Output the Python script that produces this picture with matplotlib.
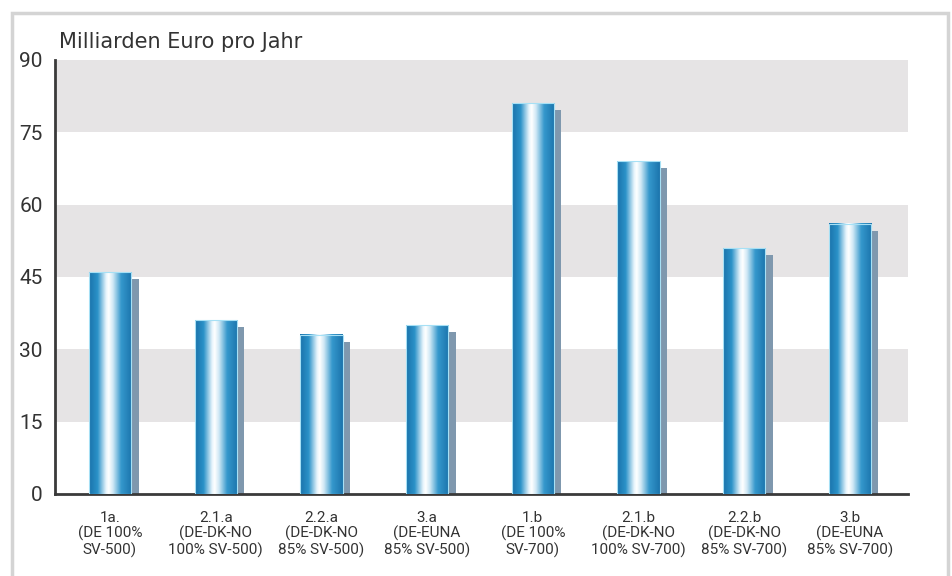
import numpy as np
import matplotlib.pyplot as plt
from matplotlib.colors import LinearSegmentedColormap
from matplotlib.patches import Rectangle

plt.rcParams['font.family'] = ['Roboto', 'DejaVu Sans']

kategorien = ['1a.\n(DE 100%\nSV-500)', '2.1.a\n(DE-DK-NO\n100% SV-500)',
              '2.2.a\n(DE-DK-NO\n85% SV-500)', '3.a\n(DE-EUNA\n85% SV-500)',
              '1.b\n(DE 100%\nSV-700)', '2.1.b\n(DE-DK-NO\n100% SV-700)',
              '2.2.b\n(DE-DK-NO\n85% SV-700)', '3.b\n(DE-EUNA\n85% SV-700)']
werte = [46, 36, 33, 35, 81, 69, 51, 56]
yticks = [0, 15, 30, 45, 60, 75, 90]

fig = plt.figure(figsize=(9.52, 5.76), dpi=100)
ax = fig.add_axes([0.0578, 0.1424, 0.896, 0.7535])

# grauer Rahmen
fig.patches.append(Rectangle((12/952, -0.01), 936/952, 1 - 13/576 + 0.01,
                             transform=fig.transFigure, fill=False,
                             edgecolor='#d4d4d4', linewidth=2.5))

# Baender
for lo in [15, 45, 75]:
    ax.axhspan(lo, lo + 15, color='#e6e4e5', zorder=0, lw=0)

cmap = LinearSegmentedColormap.from_list('saeule', [
    (0.0, '#1a72ab'), (0.2, '#2b92c8'), (0.40, '#e8f5fc'), (0.46, '#ffffff'),
    (0.56, '#cfe8f5'), (0.75, '#3598cc'), (1.0, '#1b74ac')])
grad = np.linspace(0, 1, 256).reshape(1, -1)

b = 0.40
s = 0.07
for i, w in enumerate(werte):
    x0 = i - b / 2
    # Schatten
    ax.add_patch(Rectangle((x0 + b, 0), s, w - 1.4, color='#7f98ae', zorder=2, lw=0))
    ax.imshow(grad, cmap=cmap, aspect='auto', extent=(x0, x0 + b, 0, w),
              zorder=3, interpolation='bilinear')
    ax.add_patch(Rectangle((x0, 0), b, w, fill=False, edgecolor='#a6e0f5',
                           lw=0.8, zorder=4))

ax.set_xlim(-0.52, 7.55)
ax.set_ylim(0, 90)
ax.set_yticks(yticks)
ax.set_xticks(range(len(kategorien)))
ax.set_xticklabels(kategorien, fontsize=11, color='#333333', linespacing=1.1)
ax.tick_params(axis='y', length=0, labelsize=15, pad=9, labelcolor='#333333')
ax.tick_params(axis='x', length=0, pad=12)
for sp in ['top', 'right']:
    ax.spines[sp].set_visible(False)
for sp in ['left', 'bottom']:
    ax.spines[sp].set_color('#3a3a3a')
    ax.spines[sp].set_linewidth(2)

fig.text(59/952, 1 - 42/576, 'Milliarden Euro pro Jahr', fontsize=15,
         color='#333333', va='center', ha='left', family=['DejaVu Sans'])

fig.savefig('out.png', dpi=100)
